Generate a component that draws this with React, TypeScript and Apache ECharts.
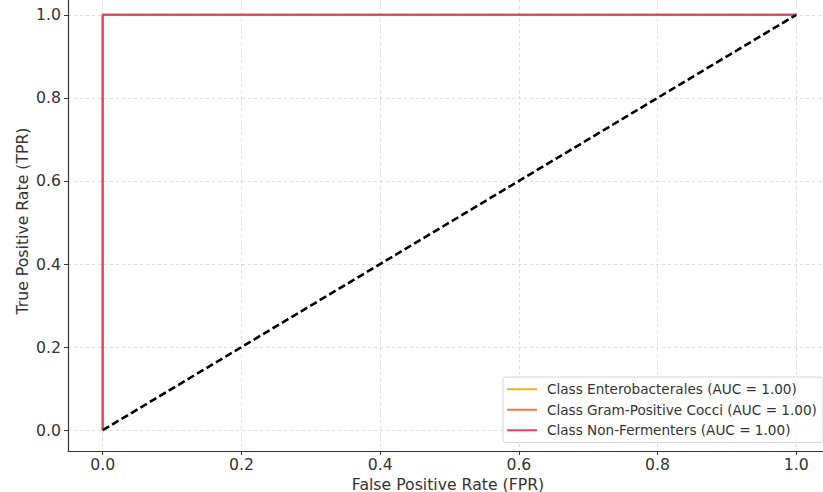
import React, { useEffect, useRef } from "react";
import * as echarts from "echarts";

const seriesNames = [
  "Class Enterobacterales (AUC = 1.00)",
  "Class Gram-Positive Cocci (AUC = 1.00)",
  "Class Non-Fermenters (AUC = 1.00)",
];
const seriesColors = ["#f9b21c", "#f4793a", "#e8405e"];
const fprValues = [
  [0, 0, 1],
  [0, 0, 1],
  [0, 0, 1],
];
const tprValues = [
  [0, 1, 1],
  [0, 1, 1],
  [0, 1, 1],
];
const diagonalX = [0, 1];
const diagonalY = [0, 1];
const tickValues = [0, 0.2, 0.4, 0.6, 0.8, 1.0];
const xTitle = "False Positive Rate (FPR)";
const yTitle = "True Positive Rate (TPR)";

const FONT = "DejaVu Sans";

export default function App() {
  const ref = useRef<HTMLDivElement>(null);
  useEffect(() => {
    if (!ref.current) return;
    const chart = echarts.init(ref.current, null, { renderer: "svg" });
    const axisCommon = {
      type: "value" as const,
      min: -0.05,
      max: 1.05,
      axisLine: { show: true, onZero: false, lineStyle: { color: "#333", width: 1.2 } },
      axisTick: { show: true, customValues: tickValues, length: 4, inside: false, lineStyle: { color: "#333", width: 1 } },
      axisLabel: {
        customValues: tickValues,
        formatter: (v: number) => v.toFixed(1),
        fontFamily: FONT,
        fontSize: 15.7,
        color: "#333",
      },
      splitLine: { show: true, lineStyle: { color: "#d4d4d4", width: 0.8, type: [3, 3] } },
    };
    const lineSeries = seriesNames.map((name, i) => ({
      name,
      type: "line" as const,
      data: fprValues[i].map((x, j) => [x, tprValues[i][j]]),
      showSymbol: false,
      symbol: "none",
      lineStyle: { color: seriesColors[i], width: 2 },
      itemStyle: { color: seriesColors[i] },
      z: 2 + i,
    }));
    chart.setOption({
      animation: false,
      backgroundColor: "#fff",
      grid: { left: 68, top: -6, width: 763, height: 457, containLabel: false, outerBoundsMode: "none" },
      xAxis: { ...axisCommon, axisLabel: { ...axisCommon.axisLabel, margin: 5, lineHeight: 16 } },
      yAxis: { ...axisCommon, axisLabel: { ...axisCommon.axisLabel, margin: 7 } },
      legend: {
        data: seriesNames,
        orient: "vertical",
        left: 503,
        top: 377,
        icon: "rect",
        itemWidth: 30,
        itemHeight: 2,
        itemGap: 4,
        padding: [4, 6, 4, 4],
        backgroundColor: "rgba(255,255,255,0.8)",
        borderColor: "#d6d6d6",
        borderWidth: 1,
        borderRadius: 3,
        textStyle: { fontFamily: FONT, fontSize: 13.6, color: "#333", lineHeight: 16.5, padding: [0, 0, 0, 5] },
        selectedMode: false,
      },
      series: [
        ...lineSeries,
        {
          name: "diagonal",
          type: "line",
          data: diagonalX.map((x, j) => [x, diagonalY[j]]),
          showSymbol: false,
          symbol: "none",
          lineStyle: { color: "#000", width: 2.6, type: [7.5, 3.5] },
          z: 10,
        },
      ],
      graphic: [
        {
          type: "text",
          x: 448,
          y: 484,
          style: { text: xTitle, fontFamily: FONT, fontSize: 15.7, lineHeight: 16, fill: "#333", align: "center", verticalAlign: "middle" },
        },
        {
          type: "text",
          x: 22,
          y: 221,
          rotation: Math.PI / 2,
          style: { text: yTitle, fontFamily: FONT, fontSize: 15.7, fill: "#333", align: "center", verticalAlign: "middle" },
        },
      ],
    });
    return () => chart.dispose();
  }, []);
  return <div ref={ref} style={{ position: "fixed", left: 0, top: 0, width: 823, height: 492 }} />;
}
